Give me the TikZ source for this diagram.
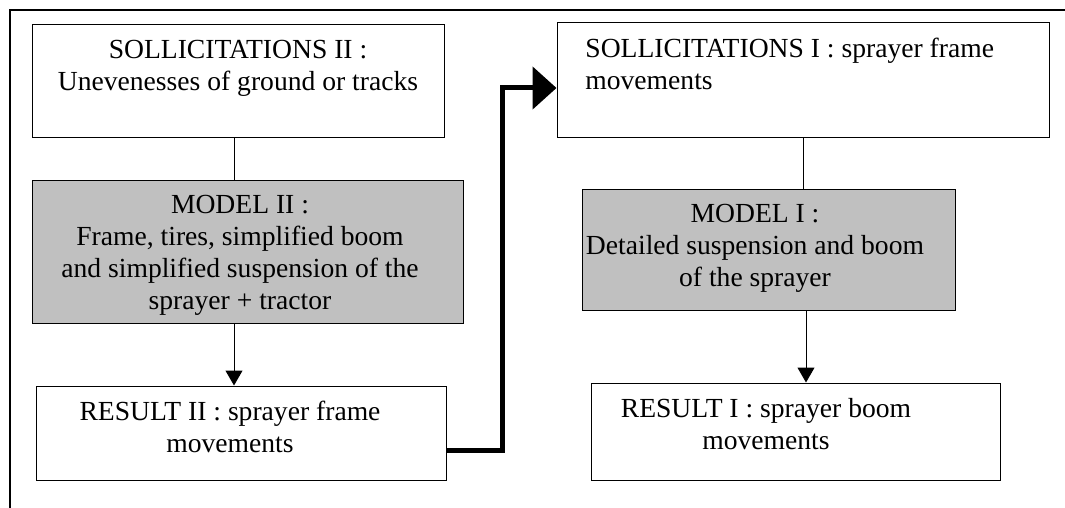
\documentclass[tikz,border=0pt]{standalone}
\usepackage{fontspec}
\setmainfont{Liberation Serif}
\usetikzlibrary{arrows.meta,positioning}
\definecolor{boxgray}{RGB}{192,192,192}
\begin{document}
\begin{tikzpicture}[x=0.5pt,y=-0.5pt,
		box/.style={draw, rectangle, line width=0.5pt, inner sep=0pt},
		graybox/.style={box, fill=boxgray},
		txt/.style={inner sep=0pt, anchor=north, align=center, font=\fontsize{13.8}{16}\selectfont},
		thin/.style={line width=0.5pt, -{Triangle[length=7.5pt, width=8.5pt]}},
		bigarrow/.style={line width=2.5pt, -{Triangle[length=12pt, width=21pt]}}]
		
		\useasboundingbox (0,0) rectangle (1065,508);
		\draw[line width=0.65pt] (1065,10) -- (10,10) -- (10,508);
		
		% left column
		\node[box, minimum width=206pt, minimum height=56.5pt] (sollII) at (238,81.5){};
		\node[graybox, minimum width=215.5pt, minimum height=71.5pt] (modII) at (247.5,251.5){};
		\node[box, minimum width=205pt, minimum height=47pt] (resII) at (241,433){};
		
		\node[txt] (sollIItxt) at (238,40){SOLLICITATIONS II :\\Unevenesses of ground or tracks};
		\node[txt] (modIItxt) at (240,195){MODEL II :\\Frame, tires, simplified boom\\and simplified suspension of the\\sprayer + tractor};
		\node[txt] (resIItxt) at (230,401){RESULT II : sprayer frame\\movements};
		
		% right column
		\node[box, minimum width=246pt, minimum height=57.5pt] (sollI) at (803,80.5){};
		\node[graybox, minimum width=186.5pt, minimum height=60.5pt] (modI) at (768.5,249.5){};
		\node[box, minimum width=204.5pt, minimum height=48.5pt] (resI) at (795.5,431.5){};
		
		\node[txt, anchor=north west, align=left] (sollItxt) at (585,38){SOLLICITATIONS I : sprayer frame\\movements};
		\node[txt] (modItxt) at (755,204){MODEL I :\\Detailed suspension and boom\\of the sprayer};
		\node[txt] (resItxt) at (766,398){RESULT I : sprayer boom\\movements};
		
		% connectors
		\draw[line width=0.5pt] (sollII.south -| 234,0) -- (modII.north -| 234,0);
		\draw[thin] (modII.south -| 234,0) -- (resII.north -| 234,0);
		\draw[line width=0.5pt] (sollI.south) -- (sollI.south |- modI.north);
		\draw[thin] (modI.south -| 806,0) -- (resI.north -| 806,0);
		
		\coordinate (bend) at ([xshift=-27pt,yshift=-3.75pt]sollI.west);
		\draw[bigarrow] ([yshift=-8.5pt]resII.east) -| (bend) -- ([yshift=-3.75pt]sollI.west);
		
\end{tikzpicture}
\end{document}
